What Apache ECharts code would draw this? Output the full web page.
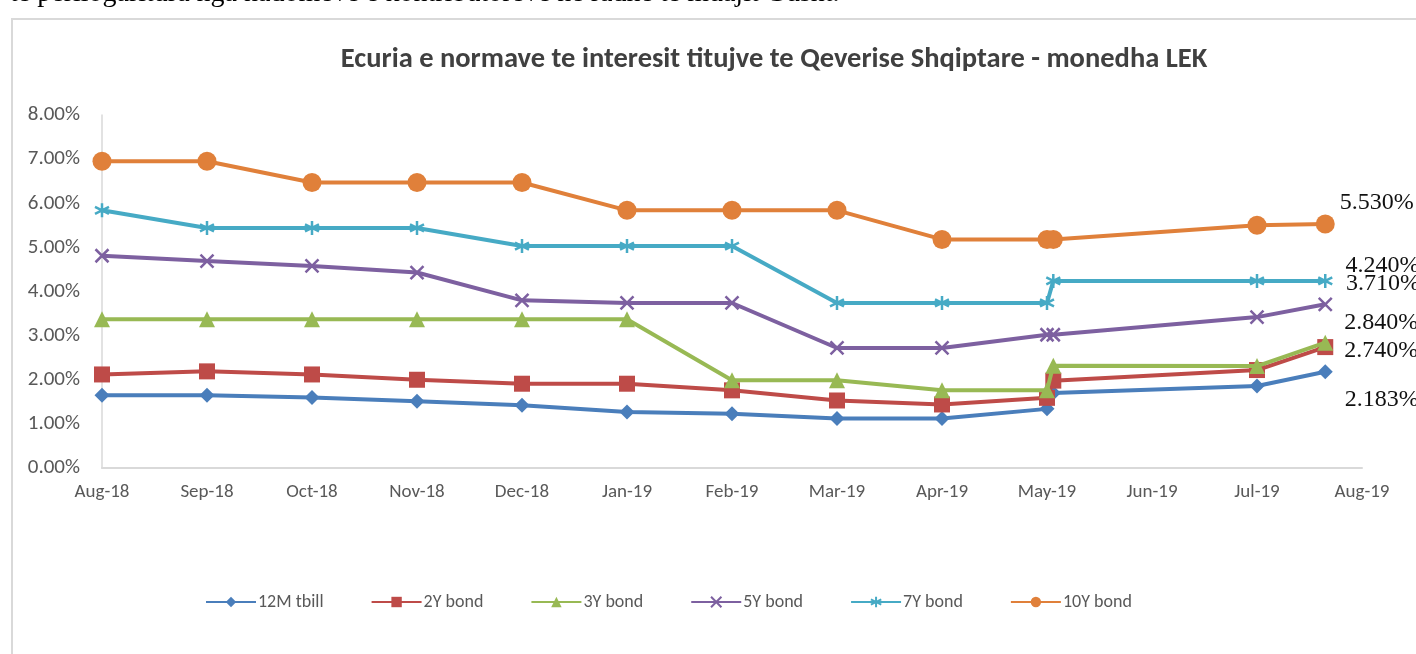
<!DOCTYPE html>
<html>
<head>
<meta charset="utf-8">
<script src="https://cdn.jsdelivr.net/npm/echarts@6/dist/echarts.min.js"></script>
<style>
html,body{margin:0;padding:0;background:#fff;}
#chart{width:1416px;height:654px;}
</style>
</head>
<body>
<div id="chart"></div>
<script>
// ---- data ----
const monthLabels = ['Aug-18','Sep-18','Oct-18','Nov-18','Dec-18','Jan-19','Feb-19','Mar-19','Apr-19','May-19','Jun-19','Jul-19','Aug-19'];
// observation positions on the month axis (0 = Aug-18)
const obsPos = [0, 1, 2, 3, 4, 5, 6, 7, 8, 9, 9.06, 11, 11.65];
const tbill12M = [1.65, 1.65, 1.60, 1.51, 1.42, 1.27, 1.23, 1.12, 1.12, 1.34, 1.70, 1.86, 2.183];
const bond2Y   = [2.12, 2.19, 2.12, 2.00, 1.91, 1.91, 1.76, 1.53, 1.44, 1.59, 1.98, 2.22, 2.74];
const bond3Y   = [3.37, 3.37, 3.37, 3.37, 3.37, 3.37, 1.99, 1.99, 1.76, 1.76, 2.32, 2.31, 2.84];
const bond5Y   = [4.81, 4.69, 4.58, 4.43, 3.80, 3.74, 3.74, 2.72, 2.72, 3.02, 3.02, 3.42, 3.71];
const bond7Y   = [5.84, 5.44, 5.44, 5.44, 5.03, 5.03, 5.03, 3.74, 3.74, 3.74, 4.24, 4.24, 4.24];
const bond10Y  = [6.95, 6.95, 6.47, 6.47, 6.47, 5.84, 5.84, 5.84, 5.18, 5.18, 5.18, 5.50, 5.53];
const seriesNames = ['12M tbill','2Y bond','3Y bond','5Y bond','7Y bond','10Y bond'];
const yTicks = [0,1,2,3,4,5,6,7,8];

// ---- styles ----
const SANS = 'Carlito, Lato, "Open Sans", sans-serif';
const X_PATH = 'path://M0,0L10,10M10,0L0,10';
const STAR_PATH = 'path://M5,0L5,10M0.6,2.5L9.4,7.5M9.4,2.5L0.6,7.5';
const styles = [
  {color:'#4A7EBB', symbol:'diamond', size:15, labelOffset:[12, 28]},
  {color:'#BE4B48', symbol:'rect', size:16, labelOffset:[11, 4]},
  {color:'#98B954', symbol:'triangle', size:16, labelOffset:[11, -20]},
  {color:'#7D60A0', symbol:X_PATH, size:13, stroke:true, labelOffset:[13, -21]},
  {color:'#46AAC5', symbol:STAR_PATH, size:14, stroke:true, labelOffset:[12, -15]},
  {color:'#E0803A', symbol:'circle', size:19, labelOffset:[5, -21]}
];
const allValues = [tbill12M, bond2Y, bond3Y, bond5Y, bond7Y, bond10Y];

const series = allValues.map((vals, si) => {
  const st = styles[si];
  const data = vals.map((v, i) => {
    const item = {value: [obsPos[i], v]};
    if (i === vals.length - 1) {
      item.label = {
        show: true,
        position: 'right',
        distance: 0,
        offset: st.labelOffset,
        formatter: p => p.value[1].toFixed(3) + '%',
        fontFamily: '"Liberation Serif", "DejaVu Serif", serif',
        fontSize: 24,
        color: '#111'
      };
    }
    return item;
  });
  return {
    name: seriesNames[si],
    type: 'line',
    data: data,
    symbol: st.symbol,
    symbolSize: st.size,
    showAllSymbol: true,
    lineStyle: {color: st.color, width: 4},
    itemStyle: st.stroke
      ? {color: st.color, borderColor: st.color, borderWidth: 2.5}
      : {color: st.color, borderWidth: 0},
    emphasis: {disabled: true},
    animation: false,
    z: 2 + si
  };
});

const chart = echarts.init(document.getElementById('chart'), null, {renderer: 'canvas'});
chart.setOption({
  backgroundColor: '#ffffff',
  animation: false,
  title: {
    text: 'Ecuria e normave te interesit titujve te Qeverise Shqiptare - monedha LEK',
    left: 769,
    textAlign: 'center',
    top: 40,
    textStyle: {fontFamily: SANS, fontSize: 28.5, fontWeight: 'bold', color: '#404040'}
  },
  graphic: [
    {type: 'rect', shape: {x: 12, y: 19, width: 1440, height: 680},
     style: {fill: 'none', stroke: '#d9d9d9', lineWidth: 2}, silent: true, z: -1},
    {type: 'text', x: 10, y: -20,
     style: {text: 'te perllogaritura nga nadomeve e kontributoreve ne radhe te muajit Gusht.',
             font: '28px "Liberation Serif", serif', fill: '#000', verticalAlign: 'top'}, silent: true}
  ],
  legend: {
    data: seriesNames,
    left: 200,
    top: 588,
    itemWidth: 50,
    itemHeight: 13,
    itemGap: 47,
    textStyle: {fontFamily: SANS, fontSize: 18, color: '#595959', padding: [0,0,0,-3]}
  },
  grid: {left: 102, right: 54, top: 115, bottom: 186, containLabel: false},
  xAxis: {
    type: 'value',
    min: 0,
    max: monthLabels.length - 1,
    interval: 1,
    axisLine: {show: true, lineStyle: {color: '#d9d9d9', width: 2}},
    axisTick: {show: false},
    splitLine: {show: false},
    axisLabel: {
      formatter: v => monthLabels[Math.round(v)] || '',
      fontFamily: SANS, fontSize: 19, color: '#595959', margin: 15,
      showMinLabel: true, showMaxLabel: true
    }
  },
  yAxis: {
    type: 'value',
    min: yTicks[0],
    max: yTicks[yTicks.length - 1],
    interval: 1,
    axisLine: {show: true, lineStyle: {color: '#d9d9d9', width: 1.5}},
    axisTick: {show: false},
    splitLine: {show: false},
    axisLabel: {
      formatter: v => v.toFixed(2) + '%',
      fontFamily: SANS, fontSize: 21, color: '#595959', margin: 22
    }
  },
  series: series
});
</script>
</body>
</html>
